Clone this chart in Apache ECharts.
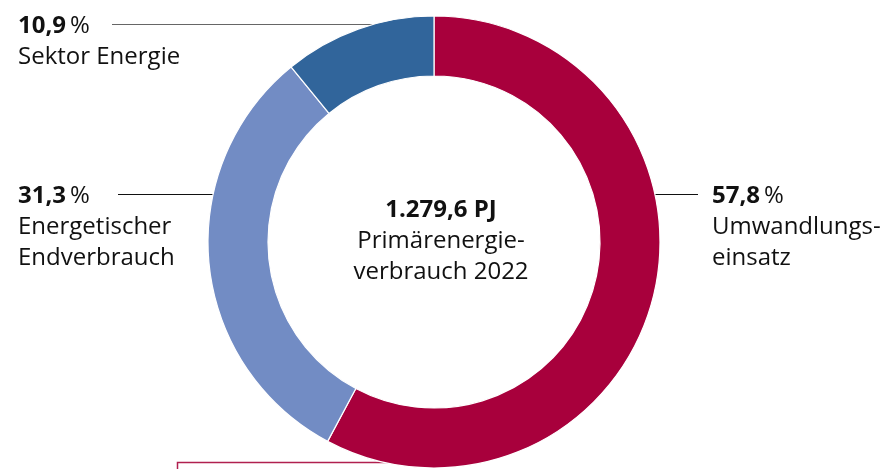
<!DOCTYPE html>
<html>
<head>
<meta charset="utf-8">
<script src="https://cdn.jsdelivr.net/npm/echarts@6/dist/echarts.min.js"></script>
<style>
  html, body { margin: 0; padding: 0; background: #fff; }
  #chart { width: 882px; height: 469px; }
</style>
</head>
<body>
<div id="chart"></div>
<script>
// shares of primary energy use 2022, clockwise from the top
const categories = ["Umwandlungs-\neinsatz", "Energetischer\nEndverbrauch", "Sektor Energie"];
const shares = [57.8, 31.3, 10.9];
const colors = ["#a8003c", "#728cc4", "#31659b"];
const centerTitle = "1.279,6 PJ";
const centerSub = "Primärenergie-\nverbrauch 2022";

// where each label sits and where its leader line runs
const labelSpots = [
  { x: 712, y: 181, line: [[651, 194.5], [675, 194.5], [698, 194.5]], lineColor: "#111" },
  { x: 18, y: 181, line: [[226, 194.5], [170, 194.5], [118, 194.5]], lineColor: "#111" },
  { x: 18, y: 11, line: [[389, 24.5], [250, 24.5], [112, 24.5]], lineColor: "#666" }
];

const fontFamily = "'Open Sans', sans-serif";
const fontSize = 24;
const lineHeight = 31;
const fmt = (v) => v.toFixed(1).replace(".", ",");

const chart = echarts.init(document.getElementById("chart"));

chart.setOption({
  animation: false,
  graphic: [
    {
      // edge of a box that lies underneath the ring, cut off by the picture
      type: "polyline",
      z: 0,
      shape: { points: [[177.5, 475], [177.5, 462.5], [434, 462.5]] },
      style: { fill: null, stroke: "#b0204f", lineWidth: 1.5 }
    },
    {
      type: "text",
      z: 10,
      left: "center",
      top: 198,
      style: {
        text: "{t|" + centerTitle + "}\n{s|" + centerSub.split("\n").join("}\n{s|") + "}",
        align: "center",
        rich: {
          t: { fontFamily, fontSize, fontWeight: "bold", lineHeight, fill: "#111", align: "center" },
          s: { fontFamily, fontSize, lineHeight, fill: "#111", align: "center" }
        }
      }
    }
  ],
  series: [{
    type: "pie",
    z: 2,
    center: [434, 242],
    radius: [166, 226],
    startAngle: 90,
    clockwise: true,
    avoidLabelOverlap: false,
    itemStyle: { borderColor: "#fff", borderWidth: 1.2 },
    emphasis: { disabled: true },
    data: categories.map((name, i) => ({
      name,
      value: shares[i],
      itemStyle: { color: colors[i] },
      labelLine: { lineStyle: { color: labelSpots[i].lineColor, width: 1 } }
    })),
    label: {
      show: true,
      align: "left",
      formatter: (p) => "{b|" + fmt(p.value) + "}{p|\u2009%}\n{n|" + p.name.split("\n").join("}\n{n|") + "}",
      rich: {
        b: { fontFamily, fontSize, fontWeight: "bold", color: "#111", lineHeight },
        p: { fontFamily, fontSize, color: "#111", lineHeight },
        n: { fontFamily, fontSize, color: "#111", lineHeight }
      }
    },
    labelLine: { show: true, length: 10, length2: 10 },
    labelLayout: (params) => {
      const s = labelSpots[params.dataIndex];
      return {
        x: s.x,
        y: s.y,
        align: "left",
        verticalAlign: "top",
        labelLinePoints: s.line
      };
    }
  }]
});
</script>
</body>
</html>
